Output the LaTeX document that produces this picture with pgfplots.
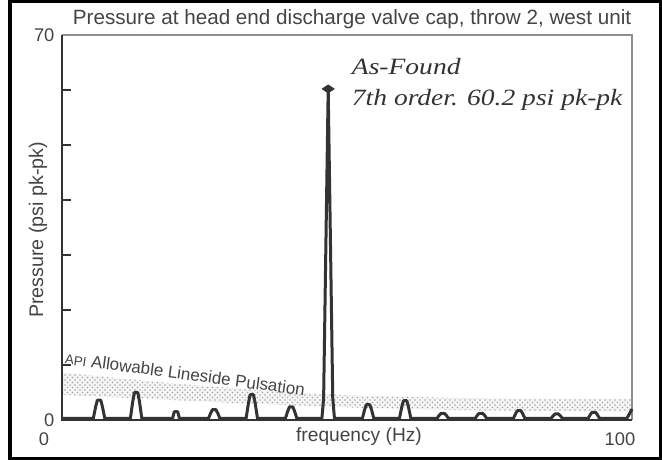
\documentclass[border=0pt]{standalone}
\usepackage{fontspec}
\setmainfont{Liberation Sans}
\newfontfamily\annofont{Liberation Serif}
\usepackage{pgfplots}
\pgfplotsset{compat=1.18}
\usetikzlibrary{patterns}
\definecolor{ink}{HTML}{333333}
\definecolor{txt}{HTML}{444444}

\begin{document}
\begin{tikzpicture}[x=0.6pt,y=0.6pt]
\useasboundingbox (0,0) rectangle (662,460);
\begin{axis}[
  at={(37.2pt,24pt)}, anchor=south west,
  width=342pt, height=231pt, scale only axis,
  xmin=0, xmax=100, ymin=0, ymax=70,
  axis line style={draw=none},
  xtick={0,100}, xticklabels={0\kern7.2pt,100},
  ytick={0,10,20,30,40,50,60,70}, yticklabels={0,,,,,,,70},
  ytick pos=left, xtick pos=bottom,
  tick align=inside,
  major tick length=5.5pt,
  x tick style={draw=none},
  y tick style={ink, line width=1.1pt},
  xticklabel style={xshift=-7.2pt, yshift=-4pt},
  yticklabel style={xshift=-1pt},
  ticklabel style={font=\fontsize{11}{13}\selectfont, text=txt},
  /pgf/number format/assume math mode=true,
  clip=false,
]
% API allowable band
\addplot[draw=none, fill=gray!8] coordinates {
 (0,8.6) (10,7.6) (20,6.6) (30,5.8) (40,5.0) (50,4.5) (60,4.2) (70,4.0) (80,3.9) (90,3.8) (100,3.8)
 (100,1.5) (90,1.6) (80,1.7) (70,1.8) (60,2.0) (50,2.3) (40,2.7) (30,3.1) (20,3.6) (10,4.1) (0,4.6)
};
\addplot[draw=none, pattern=crosshatch dots, pattern color=gray!70] coordinates {
 (0,8.6) (10,7.6) (20,6.6) (30,5.8) (40,5.0) (50,4.5) (60,4.2) (70,4.0) (80,3.9) (90,3.8) (100,3.8)
 (100,1.5) (90,1.6) (80,1.7) (70,1.8) (60,2.0) (50,2.3) (40,2.7) (30,3.1) (20,3.6) (10,4.1) (0,4.6)
};
% frame
\draw[ink!55, line width=0.7pt] (rel axis cs:0,1) -- (rel axis cs:1,1) -- (rel axis cs:1,0);
\draw[ink, line width=1.5pt] (rel axis cs:0,1) -- (rel axis cs:0,0) -- (rel axis cs:1,0);
% spectrum
\addplot[ink, line width=1.8pt, line join=round] coordinates {
 (0,0.3)
 (5.5,0.3)(5.9,2.4)(6.2,3.6)(6.8,3.6)(7.1,2.4)(7.5,0.3)
 (12.0,0.3)(12.4,3.3)(12.7,5.0)(13.3,5.0)(13.6,3.3)(14.0,0.3)
 (19.4,0.3)(19.7,1.5)(20.3,1.5)(20.6,0.3)
 (25.7,0.3)(26.1,1.3)(26.4,1.9)(27.0,1.9)(27.3,1.3)(27.7,0.3)
 (32.3,0.3)(32.7,3.0)(33.0,4.6)(33.6,4.6)(33.9,3.0)(34.3,0.3)
 (39.2,0.3)(39.6,1.6)(39.9,2.4)(40.5,2.4)(40.8,1.6)(41.2,0.3)
 (45.6,0.3)(45.9,4.0)(46.7,60.2)(47.5,4.0)(47.8,0.3)
 (52.7,0.3)(53.1,1.9)(53.4,2.8)(54.0,2.8)(54.3,1.9)(54.7,0.3)
 (59.2,0.3)(59.6,2.3)(59.9,3.5)(60.5,3.5)(60.8,2.3)(61.2,0.3)
 (65.8,0.3)(66.2,0.9)(66.5,1.2)(67.1,1.2)(67.4,0.9)(67.8,0.3)
 (72.5,0.3)(72.9,0.9)(73.2,1.2)(73.8,1.2)(74.1,0.9)(74.5,0.3)
 (79.2,0.3)(79.6,1.2)(79.9,1.7)(80.5,1.7)(80.8,1.2)(81.2,0.3)
 (85.8,0.3)(86.2,0.8)(86.5,1.1)(87.1,1.1)(87.4,0.8)(87.8,0.3)
 (92.3,0.3)(92.7,1.0)(93.0,1.4)(93.6,1.4)(93.9,1.0)(94.3,0.3)
 (99.1,0.3)(99.6,1.2)(100,2.0)
};
\addplot[ink, only marks, mark=diamond*, mark size=3.2pt, mark options={xscale=1.5, yscale=0.75}] coordinates {(46.7,60.2)};
\node[rotate=-7.6, text=txt, font=\fontsize{10.2}{12}\selectfont] at (axis cs:21.6,8.4) {{\fontsize{8}{9}\selectfont API} Allowable Lineside Pulsation};
\end{axis}
% title and labels
\node[anchor=base west, text=txt, font=\fontsize{12.4}{14}\selectfont] at (67,435) {Pressure at head end discharge valve cap, throw 2, west unit};
\node[rotate=90, text=txt, font=\fontsize{11.8}{13}\selectfont] at (38,230) {Pressure (psi pk-pk)};
\node[text=txt, font=\fontsize{11.5}{13}\selectfont] at (359,23) {frequency (Hz)};
\node[anchor=base west, text=ink, xscale=1.18, font=\annofont\itshape\fontsize{14}{16}\selectfont] at (345,385) {As-Found};
\node[anchor=base west, text=ink, xscale=1.18, font=\annofont\itshape\fontsize{14}{16}\selectfont] at (345,354) {7th order. 60.2 psi pk-pk};
% outer frame
\draw[black, line width=2.1pt] (10,1) rectangle (660.5,458.5);
\end{tikzpicture}
\end{document}
